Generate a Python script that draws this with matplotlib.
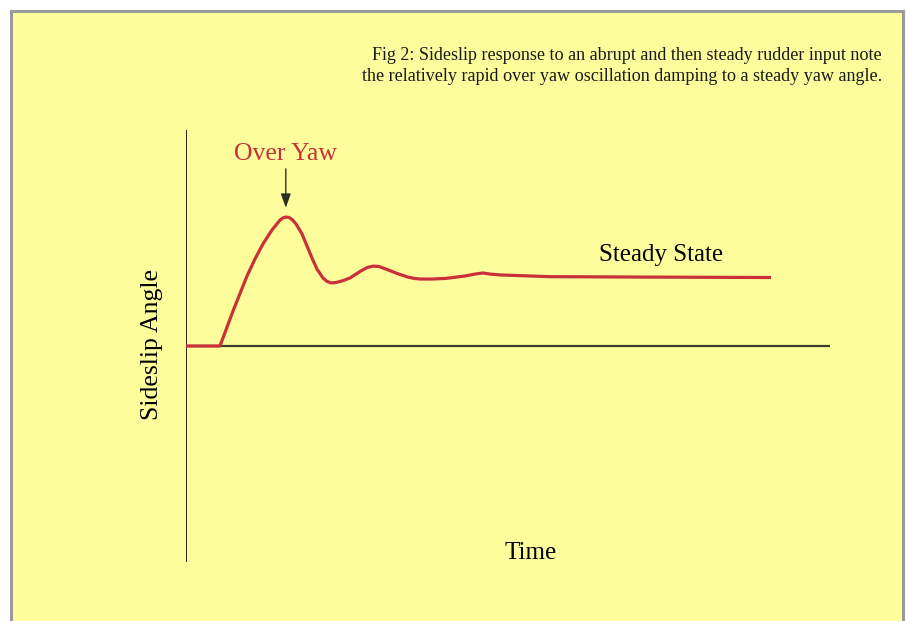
import matplotlib
matplotlib.use('Agg')
import matplotlib.pyplot as plt
from matplotlib.patches import Rectangle

# sideslip response (time in arbitrary units, angle in arbitrary units)
time = [0.0, 0.528, 0.730, 0.943, 1.071, 1.200, 1.335, 1.460, 1.506, 1.553,
        1.599, 1.646, 1.708, 1.801, 1.879, 1.957, 2.034, 2.127, 2.189, 2.252,
        2.329, 2.422, 2.547, 2.702, 2.811, 2.904, 2.997, 3.106, 3.276, 3.447,
        3.540, 3.634, 3.820, 4.037, 4.332, 4.488, 4.612, 4.720, 4.876, 5.652,
        7.205, 9.084]
sideslip = [0.0, 0.0, 0.162, 0.321, 0.403, 0.475, 0.537, 0.583, 0.593, 0.597,
            0.595, 0.586, 0.565, 0.519, 0.463, 0.407, 0.356, 0.315, 0.299, 0.292,
            0.294, 0.301, 0.315, 0.345, 0.363, 0.370, 0.368, 0.356, 0.336, 0.319,
            0.313, 0.310, 0.310, 0.313, 0.324, 0.333, 0.338, 0.333, 0.329, 0.321,
            0.319, 0.317]

caption = ("Fig 2: Sideslip response to an abrupt and then steady rudder input note\n"
           "the relatively rapid over yaw oscillation damping to a steady yaw angle.")
peak_label = "Over Yaw"
steady_label = "Steady State"
x_label = "Time"
y_label = "Sideslip Angle"

bg = '#fefd9c'
red = '#c9303a'
serif = ['Liberation Serif', 'DejaVu Serif']

W, H = 906, 621
fig = plt.figure(figsize=(W / 100, H / 100), dpi=100)
fig.patch.set_facecolor('white')

# yellow panel with grey border
fig.patches.append(Rectangle((10.5 / W, -0.05), (902.5 - 10.5) / W, (H - 10.5) / H + 0.05,
                             transform=fig.transFigure, facecolor=bg,
                             edgecolor='#9a9a9a', linewidth=2.2, zorder=-5))

# axes box: x from px 186 to 830, y from px 130 to 562
ax = fig.add_axes([186 / W, (H - 562) / H, (830 - 186) / W, (562 - 130) / H])
ax.set_zorder(2)
ax.set_xlim(0, 10)
ax.set_ylim(-1, 1)
ax.patch.set_alpha(0)
for s in ax.spines.values():
    s.set_visible(False)
ax.set_xticks([])
ax.set_yticks([])

ax.axvline(0, color='black', linewidth=1.2, zorder=2)
ax.axhline(0, color='#3e3e30', linewidth=1.6, zorder=2)

ax.plot(time, sideslip, color=red, linewidth=2.3, zorder=3,
        solid_capstyle='butt', solid_joinstyle='round')

# annotations
ax.annotate('', xy=(1.55, 0.64), xytext=(1.55, 0.82),
            arrowprops=dict(arrowstyle='-|>,head_width=0.25,head_length=0.7',
                            color='#2e2e22', lw=1.0,
                            mutation_scale=12, shrinkA=0, shrinkB=0))
ax.text(1.55, 0.89, peak_label, color=red, fontsize=18.5, family=serif,
        ha='center', va='center')
ax.text(7.38, 0.42, steady_label, color='black', fontsize=18, family=serif,
        ha='center', va='center')

fig.text(531 / W, 1 - 553 / H, x_label, fontsize=18, family=serif,
         ha='center', va='center', zorder=3)
fig.text(152 / W, 1 - 345 / H, y_label, fontsize=18.5, family=serif,
         ha='center', va='center', rotation=90, zorder=3)
fig.text(882 / W, 1 - 66 / H, caption, fontsize=13.1, family=serif,
         ha='right', va='center', multialignment='right', linespacing=1.38,
         color='#1a1a1a', zorder=3)

fig.savefig('out.png', dpi=100, facecolor=fig.get_facecolor())
